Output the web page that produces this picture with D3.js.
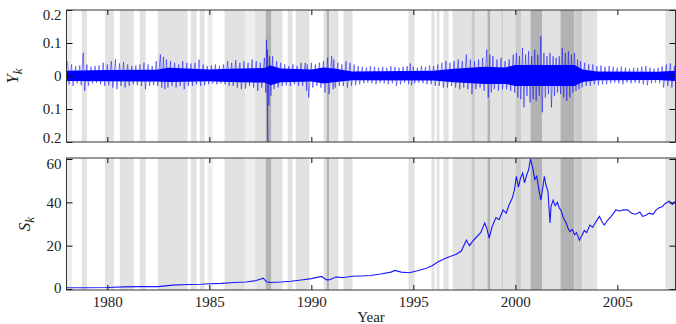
<!DOCTYPE html>
<html>
<head>
<meta charset="utf-8">
<script src="https://cdn.jsdelivr.net/npm/d3@7"></script>
<style>
  body { margin: 0; background: #fff; }
  svg { display: block; }
  svg text { font-family: "Liberation Serif", "DejaVu Serif", serif !important; fill: #222; }
</style>
</head>
<body>
<svg id="chart" width="676" height="324"></svg>
<script>
// ---- data ----
const xTicks = [1980, 1985, 1990, 1995, 2000, 2005];
const retTicks = [-0.2, -0.1, 0, 0.1, 0.2];
const retTickLabels = ["0.2", "0.1", "0", "0.1", "0.2"];
const priceTicks = [0, 20, 40, 60];

// shaded periods [start, end, shade]  v = very light, l = light, m = medium, d = dark
const bands = [
  [1978.02, 1978.26, "v"], [1978.75, 1979.0, "l"], [1979.88, 1980.32, "l"],
  [1980.61, 1981.30, "l"], [1981.59, 1981.88, "l"], [1982.47, 1983.94, "l"],
  [1984.09, 1984.38, "l"], [1984.53, 1984.77, "l"], [1984.92, 1985.16, "v"],
  [1985.75, 1986.78, "l"], [1986.78, 1987.22, "v"], [1987.22, 1987.76, "l"],
  [1987.76, 1988.05, "d"], [1988.05, 1988.59, "l"], [1988.84, 1989.08, "l"],
  [1989.23, 1989.91, "l"], [1990.60, 1990.75, "l"], [1990.75, 1990.88, "d"],
  [1990.88, 1991.32, "l"], [1991.58, 1992.02, "l"],
  [1994.76, 1995.06, "l"], [1995.89, 1996.04, "l"], [1996.14, 1996.28, "l"],
  [1996.48, 1996.73, "l"], [1996.92, 1997.85, "l"], [1997.85, 1998.04, "m"],
  [1998.04, 1998.63, "l"], [1998.63, 1998.78, "d"], [1998.78, 1999.32, "l"],
  [1999.32, 1999.42, "m"], [1999.42, 2000.0, "l"], [2000.0, 2000.3, "m"],
  [2000.3, 2000.74, "l"], [2000.74, 2001.33, "d"], [2001.33, 2002.21, "l"],
  [2002.21, 2002.89, "d"], [2002.89, 2003.28, "m"], [2003.28, 2004.01, "l"],
  [2007.36, 2007.85, "l"]
];
const shadeColors = { v: "#eeeeee", l: "#e2e2e2", m: "#cbcbcb", d: "#b2b2b2" };

// dense core of the daily returns Y_k: [year, upper, lower]
const retCore = [
  [1978.0, 0.016, -0.015], [1980.0, 0.018, -0.016], [1982.4, 0.019, -0.017],
  [1983.0, 0.025, -0.018], [1985.0, 0.020, -0.016], [1986.0, 0.022, -0.018],
  [1987.7, 0.024, -0.020], [1988.0, 0.032, -0.028], [1988.5, 0.023, -0.019],
  [1990.0, 0.020, -0.017], [1990.6, 0.026, -0.023], [1991.2, 0.022, -0.018],
  [1992.0, 0.014, -0.013], [1996.0, 0.016, -0.014], [1997.0, 0.022, -0.019],
  [1998.5, 0.028, -0.024], [1999.5, 0.026, -0.024], [2000.0, 0.033, -0.030],
  [2002.9, 0.033, -0.030], [2003.3, 0.020, -0.018], [2004.0, 0.014, -0.013],
  [2007.0, 0.013, -0.012], [2007.85, 0.016, -0.015]
];

// spikes of Y_k: [year, highest, lowest]
const retSpikes = [
  [1978.05, 0.045, -0.025], [1978.25, 0.035, -0.030], [1978.45, 0.030, -0.022],
  [1978.65, 0.032, -0.028], [1978.82, 0.070, -0.045], [1979.0, 0.035, -0.030],
  [1979.2, 0.028, -0.022], [1979.4, 0.030, -0.020], [1979.6, 0.032, -0.025],
  [1979.8, 0.040, -0.030], [1980.0, 0.035, -0.028], [1980.2, 0.045, -0.035],
  [1980.4, 0.050, -0.040], [1980.6, 0.038, -0.030], [1980.8, 0.042, -0.035],
  [1981.0, 0.035, -0.030], [1981.2, 0.030, -0.025], [1981.4, 0.032, -0.028],
  [1981.6, 0.035, -0.030], [1981.8, 0.040, -0.040], [1982.0, 0.035, -0.030],
  [1982.2, 0.030, -0.028], [1982.4, 0.045, -0.030], [1982.6, 0.065, -0.035],
  [1982.75, 0.058, -0.040], [1982.9, 0.050, -0.035], [1983.1, 0.045, -0.030],
  [1983.3, 0.040, -0.035], [1983.5, 0.035, -0.030], [1983.7, 0.045, -0.040],
  [1983.9, 0.040, -0.030], [1984.1, 0.038, -0.030], [1984.3, 0.040, -0.025],
  [1984.5, 0.050, -0.030], [1984.7, 0.035, -0.028], [1984.9, 0.030, -0.025],
  [1985.1, 0.032, -0.022], [1985.3, 0.035, -0.025], [1985.5, 0.030, -0.022],
  [1985.7, 0.035, -0.025], [1985.9, 0.045, -0.030], [1986.1, 0.040, -0.030],
  [1986.3, 0.048, -0.035], [1986.5, 0.040, -0.040], [1986.7, 0.045, -0.038],
  [1986.9, 0.040, -0.030], [1987.1, 0.050, -0.035], [1987.3, 0.045, -0.045],
  [1987.5, 0.040, -0.035], [1987.7, 0.055, -0.050], [1987.8, 0.110, -0.205],
  [1987.85, 0.080, -0.090], [1987.95, 0.060, -0.060], [1988.1, 0.060, -0.040],
  [1988.3, 0.045, -0.035], [1988.5, 0.040, -0.030], [1988.7, 0.035, -0.028],
  [1988.9, 0.030, -0.030], [1989.1, 0.035, -0.025], [1989.3, 0.030, -0.030],
  [1989.5, 0.040, -0.030], [1989.7, 0.040, -0.045], [1989.8, 0.035, -0.065],
  [1990.0, 0.040, -0.035], [1990.2, 0.035, -0.030], [1990.4, 0.040, -0.035],
  [1990.6, 0.045, -0.050], [1990.8, 0.055, -0.055], [1991.0, 0.060, -0.040],
  [1991.1, 0.050, -0.035], [1991.3, 0.040, -0.030], [1991.5, 0.035, -0.030],
  [1991.7, 0.045, -0.035], [1991.9, 0.040, -0.030], [1992.1, 0.035, -0.028],
  [1992.3, 0.030, -0.025], [1992.5, 0.028, -0.022], [1992.7, 0.025, -0.020],
  [1992.9, 0.030, -0.022], [1993.1, 0.028, -0.025], [1993.3, 0.025, -0.020],
  [1993.5, 0.028, -0.022], [1993.7, 0.025, -0.025], [1993.9, 0.030, -0.022],
  [1994.1, 0.028, -0.030], [1994.3, 0.025, -0.025], [1994.5, 0.028, -0.020],
  [1994.7, 0.030, -0.025], [1994.85, 0.038, -0.028], [1995.0, 0.028, -0.022],
  [1995.2, 0.025, -0.020], [1995.4, 0.030, -0.022], [1995.6, 0.028, -0.025],
  [1995.8, 0.032, -0.025], [1996.0, 0.030, -0.030], [1996.2, 0.035, -0.030],
  [1996.4, 0.040, -0.035], [1996.6, 0.045, -0.035], [1996.8, 0.040, -0.030],
  [1997.0, 0.045, -0.035], [1997.2, 0.050, -0.040], [1997.4, 0.045, -0.035],
  [1997.6, 0.065, -0.040], [1997.8, 0.050, -0.055], [1998.0, 0.045, -0.040],
  [1998.2, 0.050, -0.035], [1998.4, 0.055, -0.045], [1998.6, 0.080, -0.065],
  [1998.75, 0.065, -0.050], [1998.9, 0.060, -0.040], [1999.1, 0.050, -0.045],
  [1999.3, 0.055, -0.040], [1999.5, 0.045, -0.040], [1999.7, 0.050, -0.045],
  [1999.9, 0.065, -0.050], [2000.05, 0.070, -0.065], [2000.2, 0.060, -0.070],
  [2000.35, 0.085, -0.095], [2000.5, 0.065, -0.060], [2000.65, 0.075, -0.080],
  [2000.8, 0.060, -0.070], [2000.95, 0.080, -0.075], [2001.1, 0.065, -0.060],
  [2001.25, 0.120, -0.110], [2001.4, 0.070, -0.065], [2001.55, 0.060, -0.055],
  [2001.7, 0.070, -0.095], [2001.85, 0.060, -0.060], [2002.0, 0.055, -0.050],
  [2002.15, 0.060, -0.055], [2002.3, 0.085, -0.065], [2002.45, 0.070, -0.075],
  [2002.6, 0.075, -0.065], [2002.75, 0.065, -0.050], [2002.9, 0.070, -0.045],
  [2003.05, 0.050, -0.040], [2003.2, 0.045, -0.035], [2003.4, 0.040, -0.030],
  [2003.6, 0.035, -0.030], [2003.8, 0.035, -0.025], [2004.0, 0.030, -0.028],
  [2004.2, 0.032, -0.025], [2004.4, 0.028, -0.025], [2004.6, 0.030, -0.022],
  [2004.8, 0.028, -0.020], [2005.0, 0.025, -0.022], [2005.2, 0.028, -0.025],
  [2005.4, 0.025, -0.020], [2005.6, 0.022, -0.022], [2005.8, 0.025, -0.020],
  [2006.0, 0.025, -0.022], [2006.2, 0.028, -0.025], [2006.4, 0.030, -0.028],
  [2006.6, 0.025, -0.022], [2006.8, 0.022, -0.020], [2007.0, 0.025, -0.022],
  [2007.2, 0.030, -0.035], [2007.4, 0.035, -0.030], [2007.6, 0.038, -0.035],
  [2007.8, 0.030, -0.028]
];

// price level S_k: [year, value]
const priceSeries = [
  [1978.0, 0.6], [1979.0, 0.6], [1980.0, 0.7], [1980.8, 1.0], [1981.5, 1.1],
  [1982.5, 1.1], [1983.2, 1.8], [1984.0, 2.1], [1984.6, 2.2], [1985.0, 2.4],
  [1985.6, 2.6], [1986.2, 3.0], [1986.8, 3.2], [1987.3, 3.9], [1987.65, 5.0],
  [1987.8, 3.3], [1988.0, 3.0], [1988.5, 3.2], [1989.0, 3.6], [1989.6, 4.3],
  [1990.0, 4.8], [1990.5, 5.8], [1990.75, 4.2], [1990.9, 4.3], [1991.2, 5.5],
  [1991.6, 5.3], [1992.0, 5.9], [1992.4, 6.0], [1992.9, 6.2], [1993.4, 6.9],
  [1993.9, 7.8], [1994.1, 8.6], [1994.4, 7.8], [1994.8, 7.5], [1995.2, 8.4],
  [1995.6, 9.5], [1995.9, 10.6], [1996.2, 12.5], [1996.5, 13.8], [1996.8, 15.0],
  [1997.1, 16.0], [1997.35, 17.5], [1997.6, 22.5], [1997.75, 20.0], [1997.9, 22.0],
  [1998.1, 24.0], [1998.3, 26.0], [1998.5, 30.5], [1998.6, 28.0], [1998.72, 23.5],
  [1998.85, 28.5], [1999.05, 33.0], [1999.2, 32.0], [1999.4, 36.5], [1999.55, 35.0],
  [1999.7, 39.0], [1999.85, 42.0], [1999.95, 45.5], [2000.05, 52.0], [2000.15, 47.0],
  [2000.25, 51.0], [2000.36, 53.5], [2000.45, 49.0], [2000.55, 52.5], [2000.65, 55.0],
  [2000.74, 60.0], [2000.85, 56.0], [2000.95, 50.5], [2001.05, 52.0], [2001.15, 46.0],
  [2001.25, 41.0], [2001.35, 47.0], [2001.42, 52.0], [2001.5, 48.0], [2001.6, 45.0],
  [2001.7, 30.5], [2001.75, 38.0], [2001.85, 41.0], [2001.95, 38.5], [2002.06, 40.0],
  [2002.15, 37.5], [2002.25, 36.0], [2002.35, 33.0], [2002.49, 30.5], [2002.58, 28.0],
  [2002.68, 26.5], [2002.8, 27.5], [2002.9, 25.0], [2003.0, 26.0], [2003.14, 22.5],
  [2003.25, 24.5], [2003.38, 27.0], [2003.5, 26.0], [2003.65, 29.5], [2003.79, 28.5],
  [2003.95, 31.0], [2004.12, 33.5], [2004.25, 31.0], [2004.36, 29.5], [2004.5, 31.5],
  [2004.7, 33.5], [2004.93, 36.5], [2005.1, 36.0], [2005.3, 36.5], [2005.5, 36.5],
  [2005.7, 35.0], [2005.91, 34.5], [2006.1, 35.5], [2006.24, 33.5], [2006.4, 34.0],
  [2006.56, 35.0], [2006.75, 34.5], [2006.9, 36.5], [2007.05, 37.5], [2007.2, 38.0],
  [2007.35, 39.5], [2007.54, 40.5], [2007.7, 39.0], [2007.85, 40.5]
];

// ---- layout ----
const left = 66.5, right = 675.5;
const topPanel = { y0: 10, y1: 142 };
const botPanel = { y0: 158, y1: 290 };
const blue = "#0000ff";
const serif = "Liberation Serif, DejaVu Serif, serif";

const svg = d3.select("#chart");

const x = d3.scaleLinear().domain([1978, 2007.85]).range([left, right]);
const yRet = d3.scaleLinear().domain([-0.2, 0.2]).range([topPanel.y1, topPanel.y0]);
const yPrice = d3.scaleLinear().domain([-0.46, 60.46]).range([botPanel.y1, botPanel.y0]);

function panel(id, p) {
  const g = svg.append("g");
  g.append("clipPath").attr("id", id)
    .append("rect").attr("x", left).attr("y", p.y0)
    .attr("width", right - left).attr("height", p.y1 - p.y0);
  // shading
  g.append("g").selectAll("rect").data(bands).join("rect")
    .attr("x", d => x(d[0]))
    .attr("width", d => Math.max(0.8, x(d[1]) - x(d[0])))
    .attr("y", p.y0).attr("height", p.y1 - p.y0)
    .attr("fill", d => shadeColors[d[2]]);
  return g;
}

function frame(g, p, y, ticks, labels, showX) {
  const fmt = labels ? ((d, i) => labels[i]) : d3.format("d");
  const ax = g.append("g").attr("transform", `translate(${left},0)`)
    .call(d3.axisLeft(y).tickValues(ticks).tickFormat(fmt).tickSizeInner(-6).tickSizeOuter(0).tickPadding(5));
  ax.attr("font-family", serif).attr("font-size", 15);
  ax.select(".domain").remove();
  // the end labels sit slightly inside the box in the reference
  ax.selectAll(".tick text").attr("dy", d => {
    if (d === ticks[ticks.length - 1]) return "0.62em";
    if (d === ticks[0]) return d === 0 ? "0.2em" : "0.0em";
    return "0.32em";
  });

  const ar = g.append("g").attr("transform", `translate(${right},0)`)
    .call(d3.axisRight(y).tickValues(ticks).tickFormat("").tickSizeInner(-6).tickSizeOuter(0));
  ar.select(".domain").remove();

  const at = g.append("g").attr("transform", `translate(0,${p.y0})`)
    .call(d3.axisTop(x).tickValues(xTicks).tickFormat("").tickSizeInner(-5).tickSizeOuter(0));
  at.select(".domain").remove();

  const ab = g.append("g").attr("transform", `translate(0,${p.y1})`)
    .call(d3.axisBottom(x).tickValues(xTicks).tickFormat(showX ? d3.format("d") : "")
      .tickSizeInner(-5).tickSizeOuter(0).tickPadding(6));
  ab.attr("font-family", serif).attr("font-size", 15);
  ab.select(".domain").remove();

  g.selectAll(".tick line").attr("stroke", "#111");
  g.append("rect").attr("x", left).attr("y", p.y0)
    .attr("width", right - left).attr("height", p.y1 - p.y0)
    .attr("fill", "none").attr("stroke", "#333").attr("stroke-width", 1);
}

// ---- top panel: returns ----
const gTop = panel("clipTop", topPanel);
const plotTop = gTop.append("g").attr("clip-path", "url(#clipTop)");

plotTop.append("path").datum(retCore)
  .attr("fill", blue)
  .attr("d", d3.area().x(d => x(d[0])).y0(d => yRet(d[2])).y1(d => yRet(d[1])));

const zig = [];
retSpikes.forEach(d => { zig.push([d[0], d[1]]); zig.push([d[0] + 0.07, d[2]]); });
plotTop.append("path").datum(zig)
  .attr("fill", "none").attr("stroke", blue).attr("stroke-width", 0.8).attr("stroke-opacity", 0.6)
  .attr("d", d3.line().x(d => x(d[0])).y(d => yRet(d[1])));

frame(gTop, topPanel, yRet, retTicks, retTickLabels, false);

// ---- bottom panel: price ----
const gBot = panel("clipBot", botPanel);
gBot.append("g").attr("clip-path", "url(#clipBot)")
  .append("path").datum(priceSeries)
  .attr("fill", "none").attr("stroke", blue).attr("stroke-width", 1.1).attr("stroke-opacity", 0.9)
  .attr("d", d3.line().x(d => x(d[0])).y(d => yPrice(d[1])));

frame(gBot, botPanel, yPrice, priceTicks, null, true);

// ---- axis titles ----
const yl = svg.append("text").attr("transform", "translate(18,76) rotate(-90)")
  .attr("text-anchor", "middle").attr("font-family", serif)
  .style("font-size", "17px").style("font-style", "italic");
yl.append("tspan").text("Y");
yl.append("tspan").attr("dy", "0.3em").style("font-size", "13px").text("k");

const sl = svg.append("text").attr("transform", "translate(30,224) rotate(-90)")
  .attr("text-anchor", "middle").attr("font-family", serif)
  .style("font-size", "17px").style("font-style", "italic");
sl.append("tspan").text("S");
sl.append("tspan").attr("dy", "0.3em").style("font-size", "13px").text("k");

svg.append("text").attr("x", (left + right) / 2).attr("y", 322)
  .attr("text-anchor", "middle").attr("font-family", serif)
  .style("font-size", "15px").text("Year");
</script>
</body>
</html>
